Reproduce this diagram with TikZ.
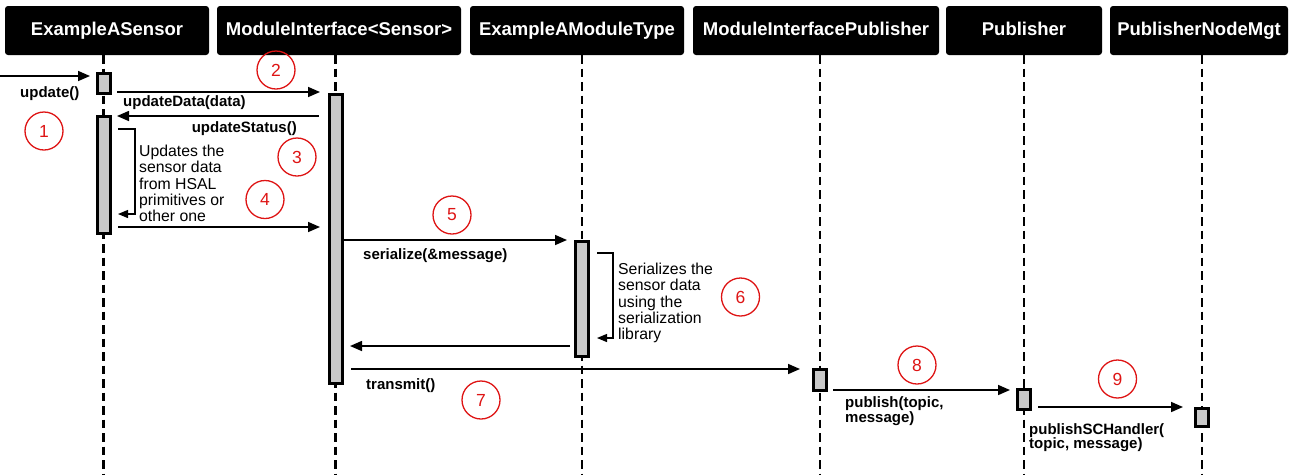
\documentclass[tikz,border=0pt]{standalone}
\usepackage{fontspec}
\setmainfont{Liberation Sans}
\usetikzlibrary{arrows.meta,backgrounds}
\definecolor{numred}{RGB}{222,20,20}

\begin{document}
\begin{tikzpicture}[x=1pt,y=-1pt,
  header/.style={fill=black,text=white,rounded corners=3pt,inner sep=0pt,minimum height=49pt,text height=13.5pt,text depth=3.9pt,font=\fontsize{18.5}{20}\selectfont\bfseries},
  lifeline/.style={line width=2.8pt,dash pattern=on 8.5pt off 5pt},
  activation/.style={draw,fill=black!21,line width=3pt,inner sep=0pt,minimum width=13pt},
  call/.style={line width=1.6pt,-{Triangle[length=12pt,width=10pt]}},
  selfcall/.style={line width=1.2pt,-{Triangle[length=10pt,width=8pt]}},
  callname/.style={inner sep=0pt,font=\fontsize{15}{14.5}\selectfont\bfseries,align=left},
  comment/.style={inner sep=0pt,font=\fontsize{15.8}{16.2}\selectfont,align=left,anchor=north west},
  stepnum/.style={circle,draw=numred,text=numred,line width=1.3pt,minimum size=38pt,inner sep=0pt,font=\fontsize{17.5}{18}\selectfont}]

\useasboundingbox (0,0) rectangle (1291,475);

% object headers
\node[header,minimum width=204pt] (h1) at (107,30.5) {ExampleASensor};
\node[header,minimum width=244pt] (h2) at (339,30.5) {ModuleInterface<Sensor>};
\node[header,minimum width=214pt] (h3) at (577,30.5) {ExampleAModuleType};
\node[header,minimum width=246pt] (h4) at (816,30.5) {ModuleInterfacePublisher};
\node[header,minimum width=156pt] (h5) at (1024,30.5) {Publisher};
\node[header,minimum width=178pt] (h6) at (1199,30.5) {PublisherNodeMgt};

% activation bars
\node[activation,minimum height=20pt] (a1) at (103.5,83.5) {};
\node[activation,minimum height=117pt] (a2) at (103.5,175) {};
\node[activation,minimum height=289pt] (m1) at (335.5,239) {};
\node[activation,minimum height=115pt] (t1) at (582,299) {};
\node[activation,minimum height=21pt] (p1) at (820,380) {};
\node[activation,minimum height=20pt] (q1) at (1024,399.5) {};
\node[activation,minimum height=18pt] (r1) at (1202,417.5) {};

% lifelines behind the bars
\begin{scope}[on background layer]
\draw[lifeline] (a1 |- h1.south) -- (a1 |- 0,475);
\draw[lifeline] (m1 |- h2.south) -- (m1 |- 0,475);
\draw[lifeline] (t1 |- h3.south) -- (t1 |- 0,475);
\draw[lifeline] (p1 |- h4.south) -- (p1 |- 0,475);
\draw[lifeline] (q1 |- h5.south) -- (q1 |- 0,475);
\draw[lifeline] (r1 |- h6.south) -- (r1 |- 0,475);
\end{scope}

% sensor update
\coordinate (caller) at (0,76);
\draw[call,shorten >=5.5pt] (caller) -- (a1.west |- caller);
\node[callname,anchor=base west] (n1) at (20,97.5) {update()};

\draw[call,shorten <=5.5pt,shorten >=7.5pt] (a1.east |- 0,92) -- (m1.west |- 0,92);
\node[callname,anchor=base west] (n2) at (123,106.5) {updateData(data)};

\draw[call,shorten <=9pt,shorten >=5.5pt] (m1.west |- 0,116) -- (a2.east |- 0,116);
\node[callname,anchor=base east] (n3) at (297,132) {updateStatus()};

\draw[selfcall,shorten <=6.5pt,shorten >=6.5pt] (a2.east |- 0,129) -- ++(23.5,0) |- (a2.east |- 0,214);
\node[comment] (c1) at (139,145) {Updates the\\sensor data\\from HSAL\\primitives or\\other one};

\draw[call,shorten <=6.5pt,shorten >=7.5pt] (a2.east |- 0,227) -- (m1.west |- 0,227);

% serialization
\draw[call,shorten >=7pt] (m1.east |- 0,240) -- (t1.west |- 0,240);
\node[callname,anchor=base west] (n5) at (363,259.5) {serialize(\&message)};

\draw[selfcall,shorten <=7pt,shorten >=7pt] (t1.east |- 0,253) -- ++(23,0) |- (t1.east |- 0,338);
\node[comment] (c2) at (618,263) {Serializes the\\sensor data\\using the\\serialization\\library};

\draw[call,shorten <=4pt,shorten >=6.5pt] (t1.west |- 0,346) -- (m1.east |- 0,346);

% publishing
\draw[call,shorten <=7.5pt,shorten >=12pt] (m1.east |- 0,369) -- (p1.west |- 0,369);
\node[callname,anchor=base west] (n7) at (366,389) {transmit()};

\draw[call,shorten <=5pt,shorten >=6pt] (p1.east |- 0,390) -- (q1.west |- 0,390);
\node[callname,anchor=north west] (n8) at (845,396.5) {publish(topic,\\message)};

\draw[call,shorten <=6pt,shorten >=11pt] (q1.east |- 0,407) -- (r1.west |- 0,407);
\node[callname,anchor=north west] (n9) at (1029,423) {publishSCHandler(\\topic, message)};

% step numbers
\node[stepnum] (s1) at (44,131) {1};
\node[stepnum] (s2) at (276,70) {2};
\node[stepnum] (s3) at (297,157) {3};
\node[stepnum] (s4) at (265,199.5) {4};
\node[stepnum] (s5) at (452,215) {5};
\node[stepnum] (s6) at (740.5,297) {6};
\node[stepnum] (s7) at (481,400) {7};
\node[stepnum] (s8) at (917,365) {8};
\node[stepnum] (s9) at (1117.5,379) {9};
\end{tikzpicture}
\end{document}
